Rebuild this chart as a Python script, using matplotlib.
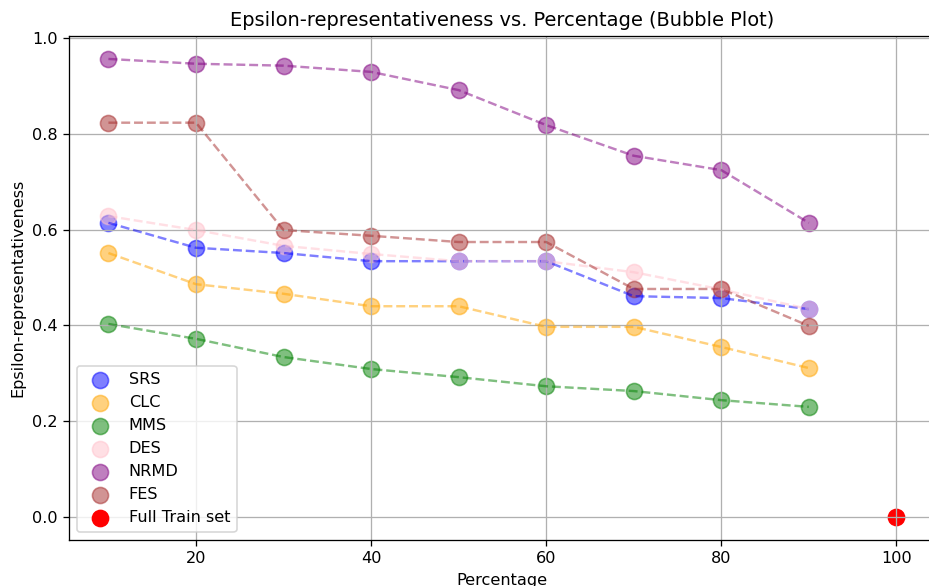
import numpy as np
import matplotlib.pyplot as plt

percentages = [10, 20, 30, 40, 50, 60, 70, 80, 90]

srs = [0.614, 0.562, 0.551, 0.534, 0.534, 0.534, 0.461, 0.457, 0.434]
clc = [0.551, 0.486, 0.466, 0.440, 0.440, 0.397, 0.397, 0.355, 0.311]
mms = [0.403, 0.372, 0.334, 0.309, 0.292, 0.273, 0.263, 0.244, 0.230]
des = [0.628, 0.599, 0.566, 0.549, 0.534, 0.534, 0.511, 0.475, 0.434]
nrmd = [0.956, 0.946, 0.942, 0.929, 0.891, 0.818, 0.754, 0.724, 0.614]
fes = [0.823, 0.823, 0.599, 0.587, 0.574, 0.574, 0.476, 0.476, 0.399]

full_x = [100]
full_y = [0.0]

series = [
    ('SRS', srs, 'blue'),
    ('CLC', clc, 'orange'),
    ('MMS', mms, 'green'),
    ('DES', des, 'pink'),
    ('NRMD', nrmd, 'purple'),
    ('FES', fes, 'brown'),
]

dpi = 116
fig = plt.figure(figsize=(929 / dpi, 586 / dpi), dpi=dpi)
ax = fig.add_axes([0.0743, 0.0785, 0.933, 0.860])

for name, vals, col in series:
    ax.scatter(percentages, vals, s=100, color=col, alpha=0.5, label=name)
    ax.plot(percentages, vals, linestyle='--', color=col, alpha=0.5, linewidth=1.5)

ax.scatter(full_x, full_y, s=100, color='red', label='Full Train set')

ax.set_xlabel('Percentage')
ax.set_ylabel('Epsilon-representativeness')
ax.set_title('Epsilon-representativeness vs. Percentage (Bubble Plot)')
ax.legend(loc='lower left')
ax.grid(True)

fig.savefig('out.png', dpi=dpi)
